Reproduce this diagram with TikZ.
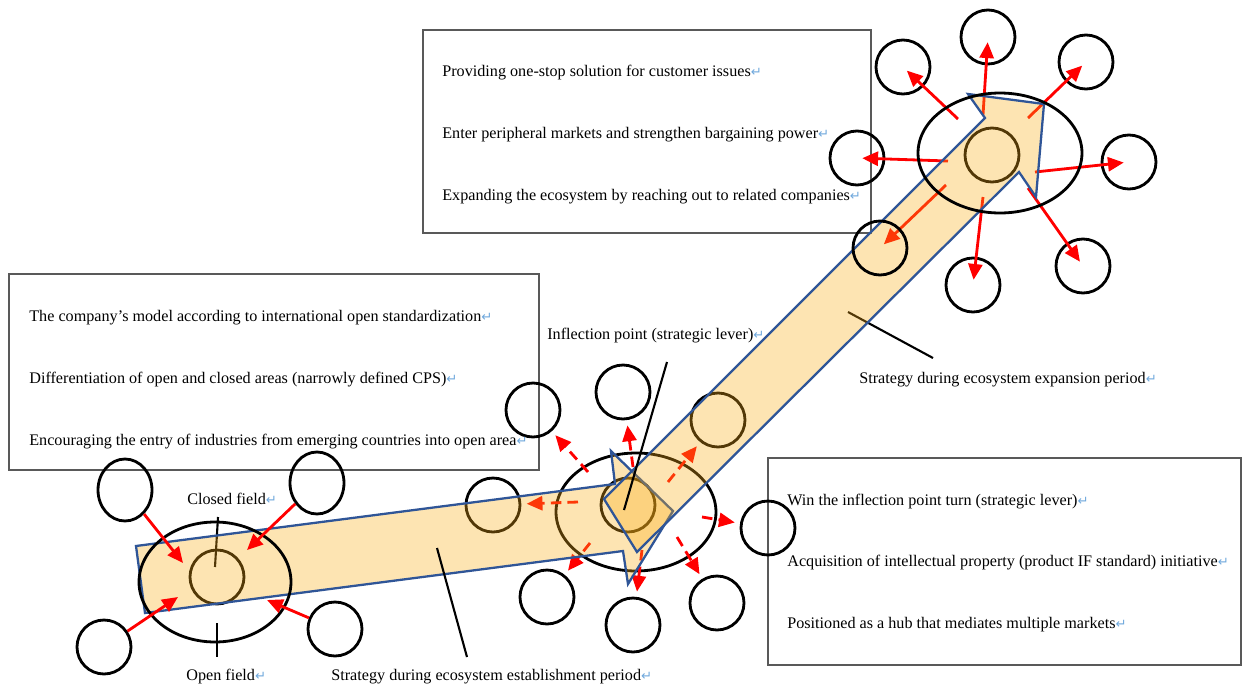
\documentclass[tikz,border=0pt]{standalone}
\usepackage{fontspec}
\setmainfont{Liberation Serif}
\newfontfamily\markfont{DejaVu Sans}
\usetikzlibrary{arrows.meta,shapes,positioning}

\definecolor{bandfill}{RGB}{249,173,22}
\definecolor{bandline}{RGB}{47,85,151}
\definecolor{markblue}{RGB}{111,168,220}
\newcommand{\pmark}{{\markfont\fontsize{7.5}{8}\selectfont\color{markblue}↵}}

\tikzset{
  sat/.style={circle,draw,line width=1.6pt,minimum size=1.08cm,inner sep=0pt},
  tallsat/.style={sat,ellipse,minimum width=1.08cm,minimum height=1.24cm},
  field/.style={ellipse,draw,line width=1.6pt,inner sep=0pt},
  infobox/.style={rectangle,draw=black!65,line width=0.8pt},
  txt/.style={anchor=west,inner sep=0pt,font=\fontsize{9.2}{11}\selectfont},
  push/.style={red,line width=1.6pt,-{Triangle[length=9pt,width=8pt]}},
  spread/.style={push,dash pattern=on 6pt off 3.5pt,shorten >=3pt},
  band/.style={draw=bandline,line width=1.3pt,fill=bandfill,fill opacity=0.33,line join=miter},
  leader/.style={line width=1.2pt}
}

\begin{document}
\begin{tikzpicture}[x=0.02cm,y=-0.02cm]
  \useasboundingbox (0,0) rectangle (1242,687);

  \node[infobox,minimum width=8.96cm,minimum height=4.06cm] (topbox) at (647,131.5) {};
  \node[infobox,minimum width=10.6cm,minimum height=3.92cm] (leftbox) at (274,372) {};
  \node[infobox,minimum width=9.46cm,minimum height=4.14cm] (rightbox) at (1004.5,561.5) {};

  \node[sat] (lc) at (217,577) {};
  \node[sat] (mc) at (628,505) {};
  \node[sat] (mb1) at (493,505) {};
  \node[sat] (mb2) at (718,420) {};
  \node[sat] (tc) at (992,155) {};
  \node[field,minimum width=3.2cm,minimum height=2.36cm] (mfield) at (636,512) {};

  \node[sat] (m1) at (533,410) {};
  \node[sat] (m2) at (623,392) {};
  \node[sat] (m3) at (768,528) {};
  \node[sat] (m4) at (717,603) {};
  \node[sat] (m5) at (633,625) {};
  \node[sat] (m6) at (547,597) {};

  \node[sat] (tr1) at (903,67) {};
  \node[sat] (tr2) at (988,37) {};
  \node[sat] (tr3) at (1086,62) {};
  \node[sat] (tr4) at (1129,162) {};
  \node[sat] (tr5) at (1083,266) {};
  \node[sat] (tr6) at (973,285) {};
  \node[sat] (tr7) at (857,158) {};

  \coordinate (b1) at (588,472);
  \coordinate (b2) at (633,467);
  \coordinate (b3) at (702,517);
  \coordinate (b4) at (677,537);
  \coordinate (b5) at (642,550);
  \coordinate (b6) at (590,543);
  \coordinate (b7) at (578,502);
  \coordinate (b8) at (668,482);

  \draw[spread] (b1) -- (m1);
  \draw[spread] (b2) -- (m2);
  \draw[spread] (b3) -- (m3);
  \draw[spread] (b4) -- (m4);
  \draw[spread] (b5) -- (m5);
  \draw[spread] (b6) -- (m6);
  \draw[spread] (b7) -- (mb1);
  \draw[spread] (b8) -- (mb2);

  \coordinate (e1) at (958,119);
  \coordinate (e2) at (983,115);
  \coordinate (e3) at (1028,118);
  \coordinate (e4) at (1035,172);
  \coordinate (e5) at (1028,188);
  \coordinate (e6) at (983,197);
  \coordinate (e7) at (948,161);
  \coordinate (e8) at (946,185);

  \path[push,shorten >=3pt]
    (e1) edge (tr1.center)
    (e2) edge (tr2.center)
    (e3) edge (tr3.center)
    (e4) edge (tr4.center)
    (e5) edge (tr5.center)
    (e6) edge (tr6.center)
    (e7) edge (tr7.center)
    (e8) edge (880,248);

  \draw[leader] (218,517) -- (215,567);
  \draw[leader] (848,312) -- (933,358);

  \filldraw[band] (136,546) -- (615,484) -- (611,451) -- (673,511) -- (628,584) -- (623,551) -- (145,613) -- cycle;
  \filldraw[band] (604,499) -- (985,118) -- (968,94) -- (1044,104) -- (1036,197) -- (1019,172) -- (637,552) -- cycle;

  \node[field,minimum width=3.04cm,minimum height=2.4cm] (lfield) at (215,582) {};
  \node[field,minimum width=3.28cm,minimum height=2.4cm] (tfield) at (1000,153) {};
  \node[sat] (tr8) at (880,248) {};

  \node[tallsat] (l1) at (125,490) {};
  \node[tallsat] (l2) at (317,483) {};
  \node[sat] (l3) at (104,647) {};
  \node[sat] (l4) at (335,629) {};

  \coordinate (c1) at (183,563);
  \coordinate (c2) at (247,550);
  \coordinate (c3) at (178,597);
  \coordinate (c4) at (267,600);

  \path[push]
    (l1) edge (c1)
    (l2) edge (c2)
    (l3) edge (c3)
    (l4) edge (c4);

  \draw[leader] (217,623) -- (217,657);
  \draw[leader] (437,548) -- (467,657);
  \draw[leader] (667,362) -- (624,510);

  \node[txt] (closed) at (187,499) {Closed field\pmark};
  \node[txt] (open) at (186,677) {Open field\pmark};
  \node[txt] (estab) at (331,677) {Strategy during ecosystem establishment period\pmark};
  \node[txt] (inflect) at (547,336) {Inflection point (strategic lever)\pmark};
  \node[txt] (expand) at (859,380) {Strategy during ecosystem expansion period\pmark};

  \node[txt] (t1) at (442,73) {Providing one-stop solution for customer issues\pmark};
  \node[txt] (t2) at (442,135) {Enter peripheral markets and strengthen bargaining power\pmark};
  \node[txt] (t3) at (442,197) {Expanding the ecosystem by reaching out to related companies\pmark};

  \node[txt] (s1) at (29,318) {The company’s model according to international open standardization\pmark};
  \node[txt] (s2) at (29,380) {Differentiation of open and closed areas (narrowly defined CPS)\pmark};
  \node[txt] (s3) at (29,442) {Encouraging the entry of industries from emerging countries into open area\pmark};

  \node[txt] (w1) at (787,502) {Win the inflection point turn (strategic lever)\pmark};
  \node[txt] (w2) at (787,563) {Acquisition of intellectual property (product IF standard) initiative\pmark};
  \node[txt] (w3) at (787,625) {Positioned as a hub that mediates multiple markets\pmark};
\end{tikzpicture}
\end{document}
